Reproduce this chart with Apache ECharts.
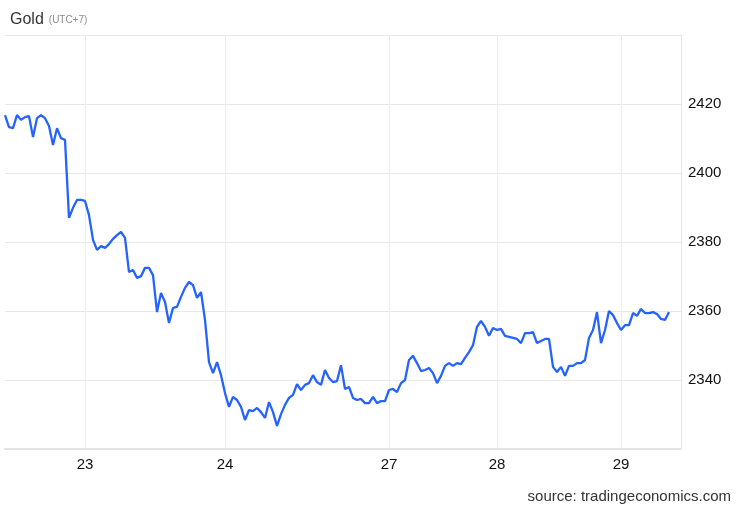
<!DOCTYPE html>
<html>
<head>
<meta charset="utf-8">
<script src="https://cdn.jsdelivr.net/npm/echarts@6/dist/echarts.min.js"></script>
<style>html,body{margin:0;padding:0;background:#fff}#c{width:739px;height:511px}</style>
</head>
<body>
<div id="c"></div>
<script>
// Gold price (USD), intraday samples, UTC+7
var prices = [
  2416.8, 2413.3, 2413.0, 2416.8, 2415.4, 2416.2, 2416.5, 2410.4, 2415.9, 2416.8,
  2415.9, 2413.6, 2408.1, 2413.0, 2410.1, 2409.6, 2387.0, 2389.9, 2392.2, 2392.2,
  2391.9, 2387.8, 2380.6, 2377.7, 2378.8, 2378.3, 2379.4, 2380.9, 2382.0, 2382.9,
  2381.2, 2371.3, 2371.9, 2369.6, 2370.1, 2372.5, 2372.5, 2370.4, 2359.7, 2365.2,
  2362.6, 2356.5, 2360.9, 2361.2, 2364.1, 2366.7, 2368.4, 2367.5, 2363.8, 2365.5,
  2357.4, 2345.2, 2342.0, 2345.2, 2341.4, 2336.2, 2332.2, 2335.1, 2334.2, 2332.2,
  2328.4, 2331.3, 2331.0, 2331.9, 2330.7, 2329.0, 2333.6, 2330.7, 2326.7, 2330.1,
  2332.8, 2334.8, 2335.7, 2338.8, 2337.1, 2338.6, 2339.1, 2341.4, 2339.4, 2338.6,
  2342.9, 2340.6, 2339.4, 2339.7, 2344.3, 2337.4, 2338.0, 2334.8, 2334.2, 2334.5,
  2333.3, 2333.3, 2335.1, 2333.3, 2333.9, 2333.9, 2337.1, 2337.4, 2336.5, 2339.1,
  2340.0, 2345.8, 2347.0, 2344.9, 2342.6, 2342.9, 2343.5, 2342.0, 2339.1, 2341.2,
  2344.1, 2344.9, 2344.1, 2344.9, 2344.6, 2346.4, 2348.1, 2350.1, 2355.4, 2357.1,
  2355.4, 2352.8, 2355.1, 2354.5, 2354.8, 2352.8, 2352.5, 2352.2, 2351.9, 2350.7,
  2353.6, 2353.6, 2353.9, 2350.7, 2351.3, 2351.9, 2351.9, 2343.8, 2342.3, 2343.8,
  2341.2, 2344.1, 2344.1, 2344.9, 2344.9, 2345.8, 2352.2, 2354.5, 2359.7, 2350.7,
  2354.5, 2360.0, 2358.8, 2356.5, 2354.5, 2355.9, 2355.9, 2359.4, 2358.6, 2360.6,
  2359.4, 2359.4, 2359.7, 2359.1, 2357.7, 2357.4, 2359.7
];
var totalSlots = 170;             // sample slots on the time axis (incl. empty tail)
var dayLabels = ['23', '24', '27', '28', '29'];
var dayIndex  = [20, 55, 96, 123, 154];
var yTicks = [2340, 2360, 2380, 2400, 2420];

var categories = [];
for (var i = 0; i < totalSlots; i++) {
  var k = dayIndex.indexOf(i);
  categories.push(k >= 0 ? dayLabels[k] : '');
}
var seriesData = [];
for (var j = 0; j < totalSlots; j++) seriesData.push(j < prices.length ? prices[j] : null);

var isDay = function (idx) { return dayIndex.indexOf(idx) >= 0; };
var font = '"Liberation Sans", Arial, sans-serif';

var chart = echarts.init(document.getElementById('c'), null, {renderer: 'canvas'});
chart.setOption({
  animation: false,
  backgroundColor: '#ffffff',
  title: {
    left: 5, top: 6,
    text: '{a|Gold} {b|(UTC+7)}',
    textStyle: {
      fontWeight: 'normal',
      rich: {
        a: {fontSize: 16, color: '#333333', fontFamily: font, fontWeight: 'normal'},
        b: {fontSize: 10, color: '#8c8c8c', fontFamily: font, fontWeight: 'normal'}
      }
    }
  },
  graphic: [{
    type: 'text', right: 8, top: 489,
    style: {text: 'source: tradingeconomics.com', fontSize: 15, fill: '#333333', fontFamily: font}
  }],
  grid: {left: 5, right: 58, top: 35, bottom: 62},
  xAxis: {
    type: 'category',
    data: categories,
    boundaryGap: false,
    axisLine: {show: true, lineStyle: {color: '#e3e3e3', width: 2}},
    axisTick: {show: false},
    axisLabel: {
      interval: function (idx) { return isDay(idx); },
      color: '#111111', fontSize: 15, fontFamily: font, margin: 8
    },
    splitLine: {
      show: true,
      interval: function (idx) { return isDay(idx); },
      lineStyle: {color: '#e9eef2', width: 1}
    }
  },
  yAxis: {
    type: 'value',
    position: 'right',
    min: 2320, max: 2440, interval: 20,
    axisLine: {show: true, lineStyle: {color: '#e6e6e6'}},
    axisTick: {show: false},
    axisLabel: {
      color: '#111111', fontSize: 15, fontFamily: font, margin: 7,
      formatter: function (v) { return yTicks.indexOf(v) >= 0 ? String(v) : ''; }
    },
    splitLine: {show: true, lineStyle: {color: '#e8e8e8', width: 1}}
  },
  series: [{
    type: 'line',
    data: seriesData,
    showSymbol: false,
    connectNulls: false,
    lineStyle: {color: '#2563ff', width: 2.3},
    itemStyle: {color: '#2563ff'}
  }]
});
</script>
</body>
</html>
